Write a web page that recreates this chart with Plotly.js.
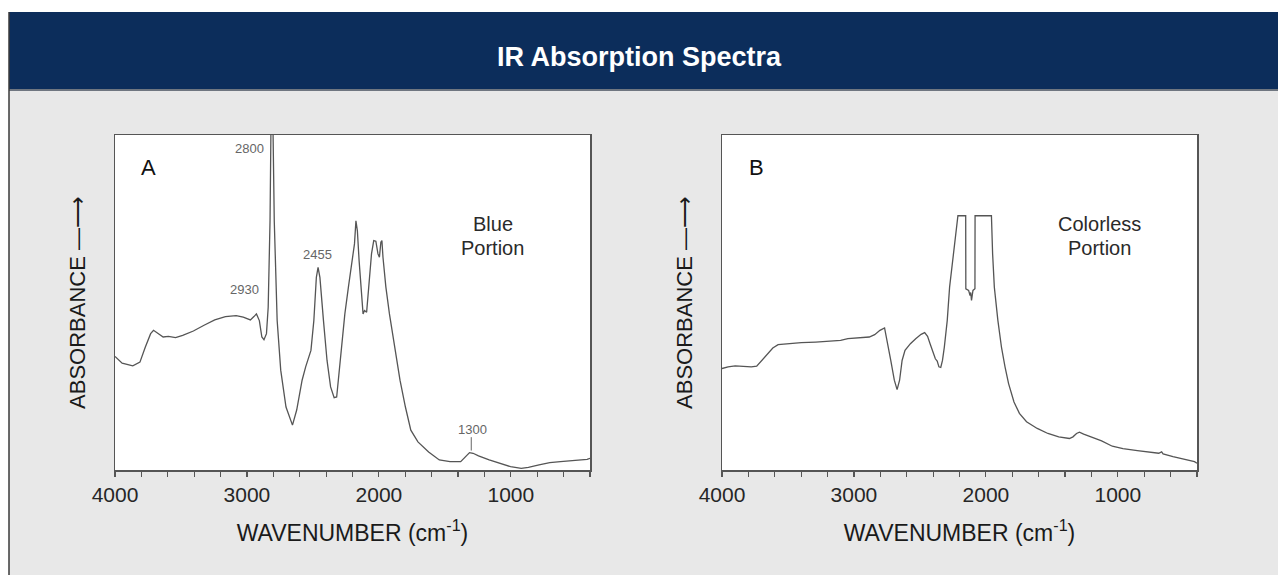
<!DOCTYPE html>
<html>
<head>
<meta charset="utf-8">
<script src="https://cdn.plot.ly/plotly-3.0.1.min.js"></script>
<style>
  html, body { margin: 0; padding: 0; background: #ffffff; }
  #chart { width: 1278px; height: 575px; }
</style>
</head>
<body>
<div id="chart"></div>
<script>
// ---- Data (wavenumber in cm-1, absorbance in arbitrary units) ----
const wavenumberA = [4000, 3946, 3865, 3811, 3770, 3730, 3708, 3676, 3635, 3595, 3541, 3487, 3406, 3325, 3244, 3163, 3082, 3028, 2974, 2947, 2928, 2906, 2887, 2871, 2852, 2839, 2825, 2817, 2812, 2804, 2793, 2771, 2744, 2704, 2655, 2623, 2582, 2555, 2515, 2493, 2474, 2461, 2447, 2420, 2393, 2366, 2339, 2320, 2299, 2258, 2231, 2204, 2185, 2174, 2163, 2150, 2131, 2120, 2109, 2093, 2077, 2056, 2039, 2023, 2007, 1996, 1985, 1977, 1969, 1947, 1920, 1880, 1840, 1799, 1758, 1704, 1623, 1542, 1461, 1380, 1340, 1313, 1286, 1245, 1164, 1083, 1002, 921, 867, 786, 705, 624, 543, 462, 422, 400];
const absorbanceA = [0.339, 0.319, 0.311, 0.322, 0.367, 0.407, 0.417, 0.409, 0.397, 0.399, 0.395, 0.402, 0.415, 0.432, 0.448, 0.458, 0.461, 0.456, 0.448, 0.458, 0.466, 0.446, 0.397, 0.389, 0.407, 0.486, 0.744, 1.06, 1.08, 1.06, 0.744, 0.446, 0.298, 0.188, 0.134, 0.179, 0.268, 0.308, 0.357, 0.446, 0.575, 0.605, 0.575, 0.446, 0.327, 0.248, 0.216, 0.218, 0.308, 0.466, 0.546, 0.625, 0.675, 0.744, 0.714, 0.625, 0.506, 0.466, 0.476, 0.471, 0.546, 0.645, 0.685, 0.683, 0.645, 0.635, 0.680, 0.685, 0.635, 0.546, 0.466, 0.367, 0.268, 0.188, 0.119, 0.084, 0.054, 0.030, 0.025, 0.025, 0.040, 0.052, 0.050, 0.042, 0.030, 0.020, 0.010, 0.005, 0.008, 0.015, 0.022, 0.025, 0.028, 0.030, 0.032, 0.035];

const wavenumberB = [4000, 3954, 3900, 3846, 3778, 3737, 3710, 3656, 3615, 3575, 3507, 3399, 3290, 3182, 3101, 3046, 2965, 2884, 2843, 2803, 2768, 2749, 2721, 2694, 2673, 2654, 2635, 2613, 2572, 2532, 2491, 2464, 2442, 2423, 2396, 2383, 2369, 2356, 2342, 2329, 2315, 2293, 2275, 2247, 2228, 2212, 2153, 2152, 2131, 2120, 2115, 2109, 2098, 2083, 2082, 1958, 1949, 1936, 1909, 1882, 1855, 1828, 1787, 1746, 1692, 1611, 1530, 1448, 1367, 1340, 1313, 1291, 1259, 1205, 1123, 1042, 961, 852, 771, 690, 668, 657, 582, 500, 419, 400];
const absorbanceB = [0.303, 0.308, 0.311, 0.310, 0.308, 0.310, 0.322, 0.347, 0.364, 0.374, 0.377, 0.380, 0.382, 0.384, 0.387, 0.392, 0.395, 0.397, 0.404, 0.417, 0.424, 0.387, 0.327, 0.268, 0.240, 0.268, 0.327, 0.357, 0.377, 0.392, 0.405, 0.410, 0.399, 0.377, 0.342, 0.332, 0.325, 0.308, 0.306, 0.327, 0.367, 0.446, 0.546, 0.645, 0.714, 0.759, 0.759, 0.541, 0.536, 0.521, 0.530, 0.506, 0.536, 0.541, 0.759, 0.759, 0.645, 0.546, 0.446, 0.367, 0.308, 0.258, 0.203, 0.169, 0.144, 0.124, 0.109, 0.099, 0.094, 0.099, 0.109, 0.113, 0.107, 0.099, 0.087, 0.071, 0.064, 0.058, 0.053, 0.050, 0.054, 0.048, 0.040, 0.032, 0.025, 0.020];

const tickValues = [4000, 3000, 2000, 1000];
const tickLabels = ['4000', '3000', '2000', '1000'];

const peakLabelsA = ['2800', '2930', '2455', '1300'];
const peakLabelXA = [2982, 3022, 2469, 1294];
const peakLabelYA = [0.961, 0.539, 0.643, 0.122];

const chartTitle = 'IR Absorption Spectra';
const panelNames = ['A', 'B'];
const panelLine1 = ['Blue', 'Colorless'];
const panelLine2 = ['Portion', 'Portion'];

// ---- Styling ----
const FONT = '"Liberation Sans", Arial, Helvetica, sans-serif';
const LINE = '#555555';
const W = 1278, H = 575;
const px = v => v / W;
const py = v => 1 - v / H;

function xAxis(domain, anchor) {
  return {
    domain: domain, anchor: anchor,
    range: [4000, 400],
    tickmode: 'array', tickvals: tickValues, ticktext: tickLabels,
    ticks: 'outside', ticklen: 5, tickwidth: 1.2, tickcolor: LINE,
    minor: { tickmode: 'linear', tick0: 0, dtick: 200, ticks: 'outside', ticklen: 5, tickwidth: 1.2, tickcolor: LINE, showgrid: false },
    showline: true, mirror: true, linecolor: LINE, linewidth: 1.5,
    showgrid: false, zeroline: false,
    tickfont: { family: FONT, size: 21, color: '#262626' },
    title: { text: 'WAVENUMBER (cm<sup>-1</sup>)', font: { family: FONT, size: 23, color: '#1a1a1a' }, standoff: 20 },
    automargin: false, fixedrange: true
  };
}
function yAxis(anchor) {
  return {
    domain: [py(470), py(135)], anchor: anchor,
    range: [0, 1],
    showticklabels: false, ticks: '',
    showline: true, mirror: true, linecolor: LINE, linewidth: 1.5,
    showgrid: false, zeroline: false,
    title: { text: 'ABSORBANCE \u2014\u27F6', font: { family: FONT, size: 22, color: '#1a1a1a' }, standoff: 22 },
    automargin: false, fixedrange: true
  };
}

const traces = [
  { x: wavenumberA, y: absorbanceA, xaxis: 'x', yaxis: 'y', mode: 'lines', line: { color: '#555555', width: 1.3 }, hoverinfo: 'x+y', name: 'Blue Portion' },
  { x: wavenumberB, y: absorbanceB, xaxis: 'x2', yaxis: 'y2', mode: 'lines', line: { color: '#555555', width: 1.3 }, hoverinfo: 'x+y', name: 'Colorless Portion' }
];

const annotations = [];
peakLabelsA.forEach((t, i) => {
  annotations.push({ xref: 'x', yref: 'y', x: peakLabelXA[i], y: peakLabelYA[i], text: t, showarrow: false,
    font: { family: FONT, size: 13, color: '#666666' }, xanchor: 'center', yanchor: 'middle' });
});
['x', 'x2'].forEach((xr, i) => {
  const yr = i === 0 ? 'y' : 'y2';
  annotations.push({ xref: xr, yref: yr, x: i === 0 ? 3749 : 3737, y: 0.903, text: panelNames[i], showarrow: false,
    font: { family: FONT, size: 22, color: '#111111' } });
  annotations.push({ xref: xr, yref: yr, x: 1137, y: 0.734, text: panelLine1[i], showarrow: false,
    font: { family: FONT, size: 20, color: '#2a2a2a' } });
  annotations.push({ xref: xr, yref: yr, x: 1137, y: 0.664, text: panelLine2[i], showarrow: false,
    font: { family: FONT, size: 20, color: '#2a2a2a' } });
});

const shapes = [
  // white top strip and left strip
  { type: 'rect', xref: 'paper', yref: 'paper', x0: 0, x1: 1, y0: py(12), y1: 1, fillcolor: '#ffffff', line: { width: 0 }, layer: 'below' },
  { type: 'rect', xref: 'paper', yref: 'paper', x0: 0, x1: px(9), y0: 0, y1: 1, fillcolor: '#ffffff', line: { width: 0 }, layer: 'below' },
  // header bar
  { type: 'rect', xref: 'paper', yref: 'paper', x0: px(9), x1: 1, y0: py(89), y1: py(12), fillcolor: '#0c2d5b', line: { width: 0 }, layer: 'below' },
  { type: 'line', xref: 'paper', yref: 'paper', x0: px(9), x1: 1, y0: py(90), y1: py(90), line: { color: '#6f7680', width: 2 }, layer: 'below' },
  { type: 'line', xref: 'paper', yref: 'paper', x0: px(9), x1: px(9), y0: 0, y1: py(12), line: { color: '#3a3a3a', width: 1.5 }, layer: 'below' },
  // 1300 marker tick
  { type: 'line', xref: 'x', yref: 'y', x0: 1300, x1: 1300, y0: 0.058, y1: 0.098, line: { color: '#666666', width: 1 } }
];

const layout = {
  width: W, height: H,
  margin: { l: 0, r: 0, t: 0, b: 0, pad: 0 },
  paper_bgcolor: '#e8e8e8',
  plot_bgcolor: '#ffffff',
  showlegend: false,
  title: { text: '<b>' + chartTitle + '</b>', x: 0.5, xref: 'paper', xanchor: 'center', y: py(57), yref: 'paper', yanchor: 'middle',
    font: { family: FONT, size: 27, color: '#ffffff' } },
  xaxis: xAxis([px(115), px(590)], 'y'),
  yaxis: yAxis('x'),
  xaxis2: xAxis([px(722), px(1197)], 'y2'),
  yaxis2: yAxis('x2'),
  annotations: annotations,
  shapes: shapes,
  font: { family: FONT }
};

Plotly.newPlot('chart', traces, layout, { displayModeBar: false, staticPlot: true });
</script>
</body>
</html>
